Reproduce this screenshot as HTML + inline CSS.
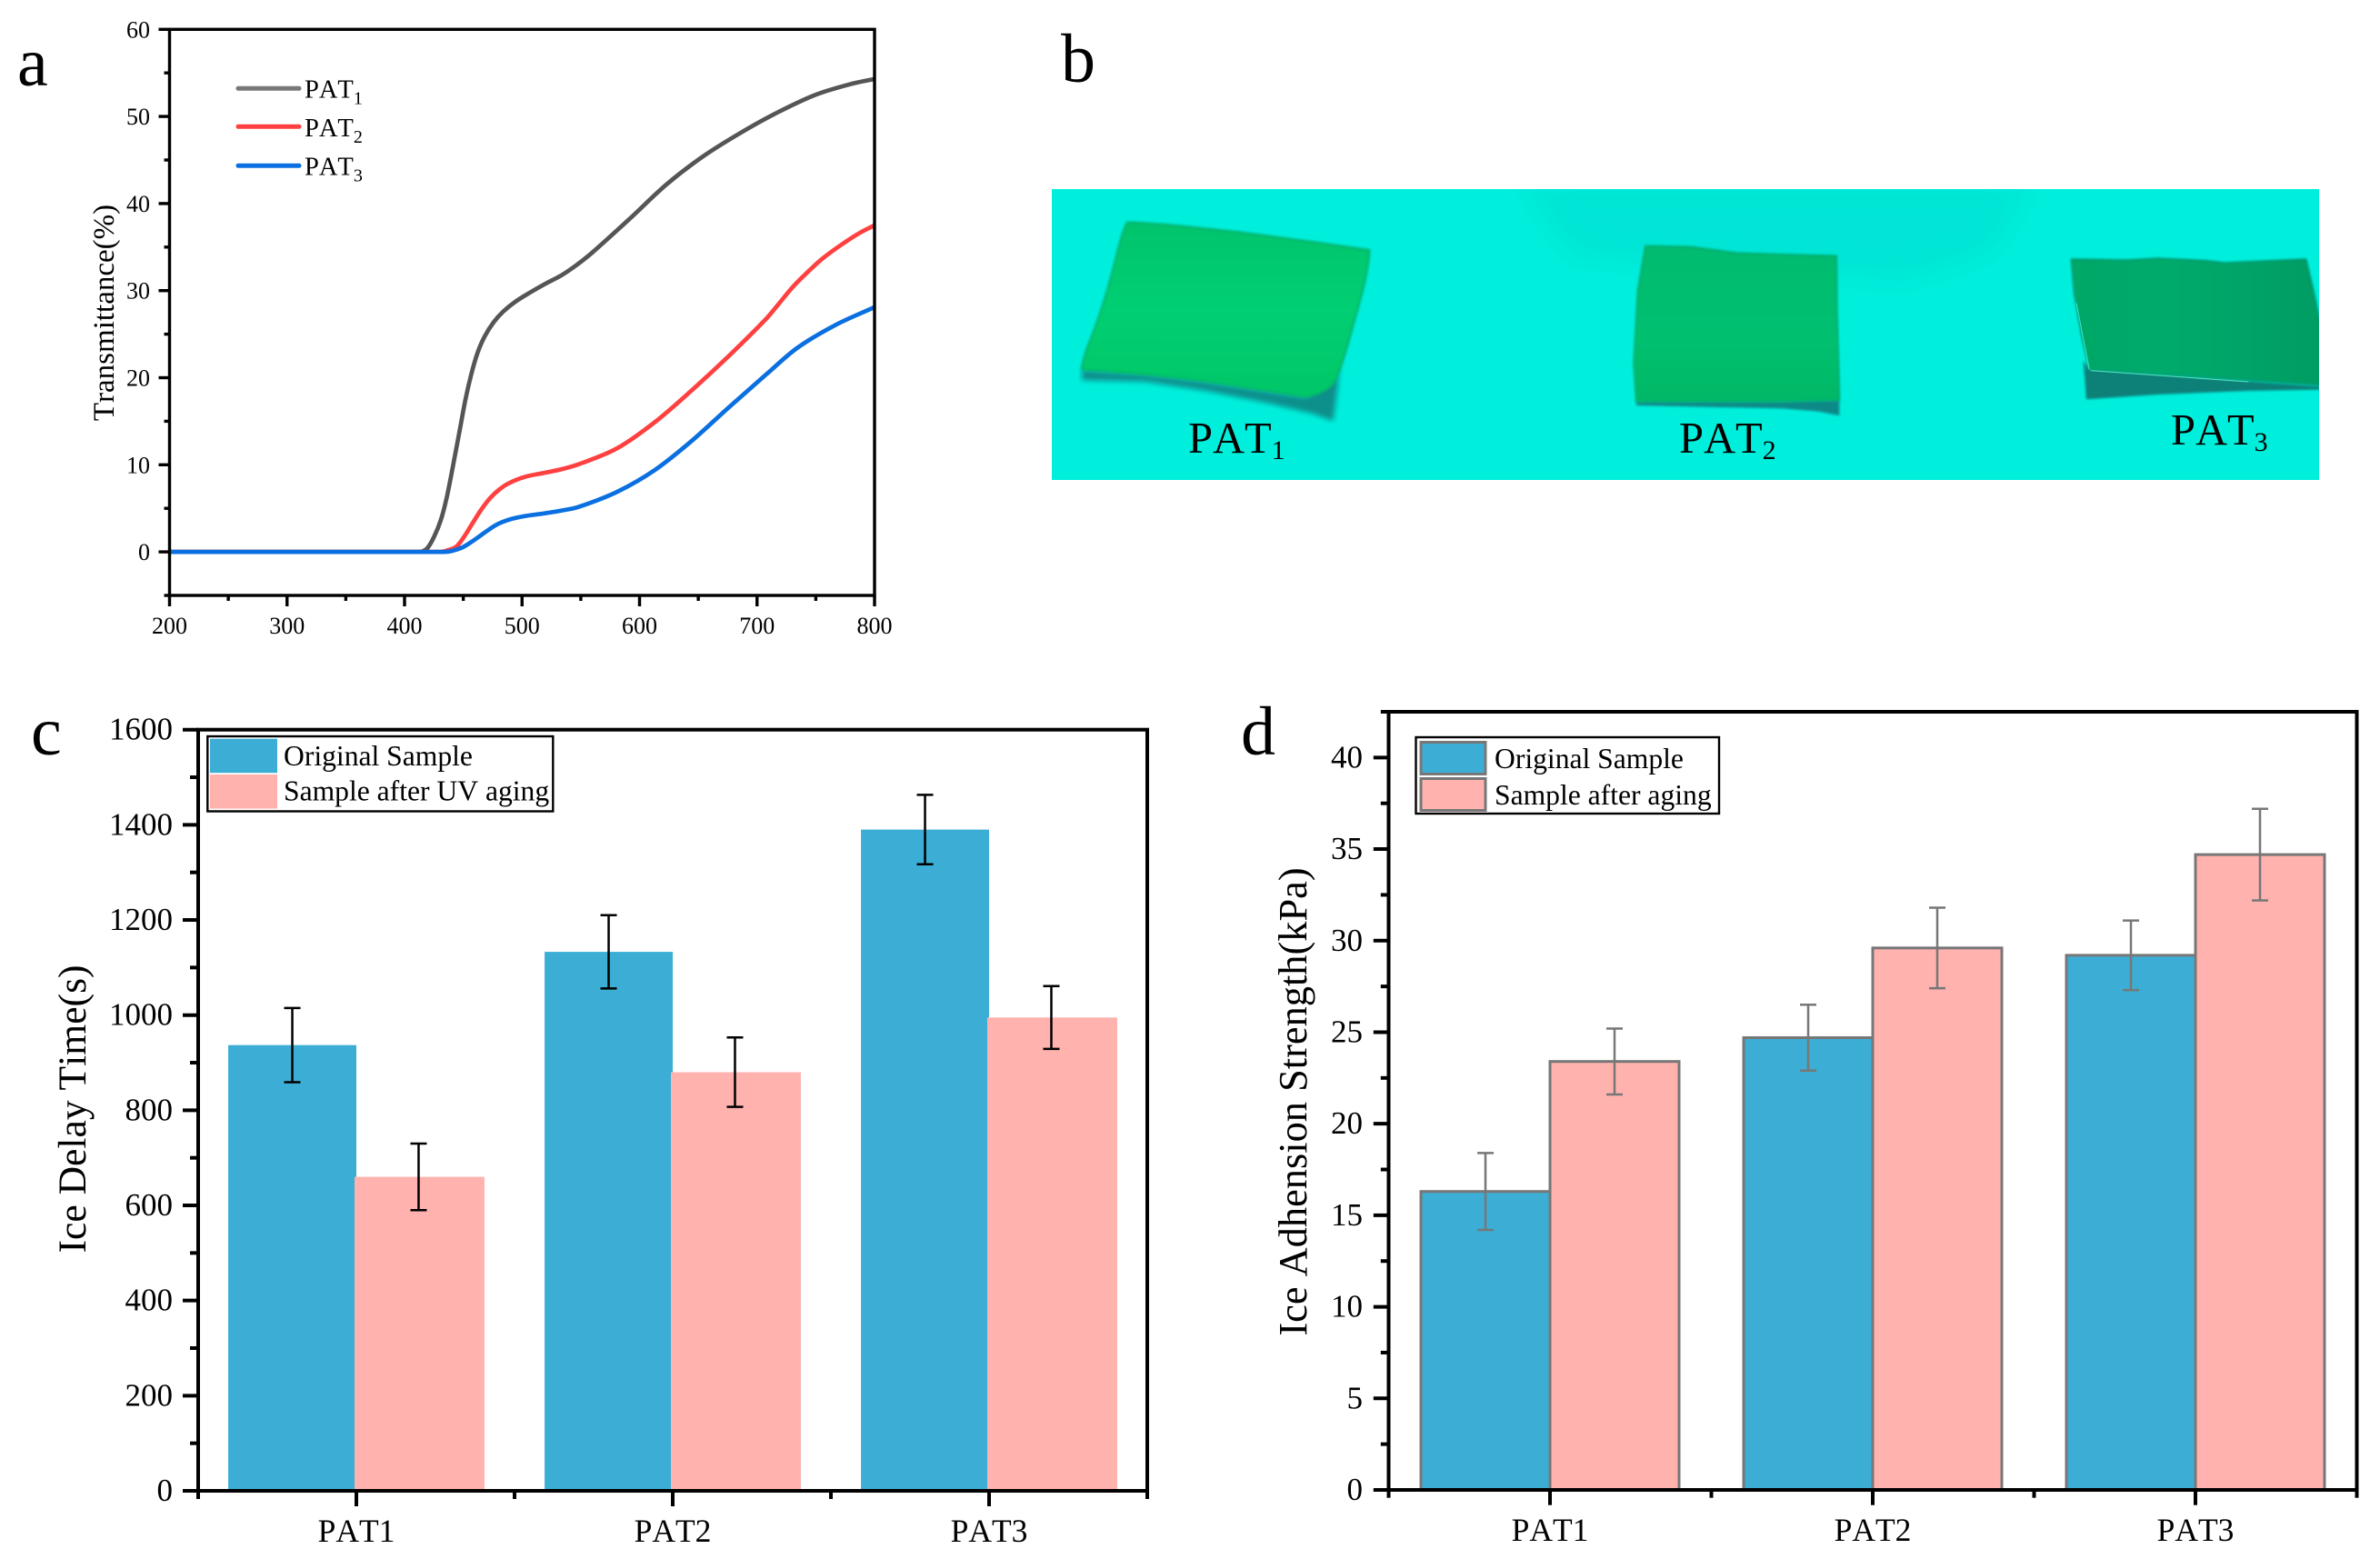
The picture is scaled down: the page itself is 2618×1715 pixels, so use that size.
<!DOCTYPE html>
<html lang="en">
<head>
<meta charset="utf-8">
<title>PAT transmittance, appearance and icing performance</title>
<style>
html,body{margin:0;padding:0;background:#fff;width:2618px;height:1715px;overflow:hidden}
svg{display:block;position:absolute;left:0;top:0}
text{font-family:"Liberation Serif",serif;fill:#000;font-kerning:none}
</style>
</head>
<body>
<svg id="fig" xmlns="http://www.w3.org/2000/svg" width="2618" height="1715" viewBox="0 0 2618 1715">
  <defs>
    <filter id="soft" x="-10%" y="-10%" width="120%" height="120%"><feGaussianBlur stdDeviation="4"/></filter>
    <filter id="softShadow" x="-20%" y="-40%" width="140%" height="180%"><feGaussianBlur stdDeviation="9"/></filter>
    <filter id="softer" x="-20%" y="-30%" width="140%" height="160%"><feGaussianBlur stdDeviation="14"/></filter>
    <linearGradient id="s1" x1="0" y1="0" x2="0" y2="1"><stop offset="0" stop-color="#00c46c"/><stop offset=".5" stop-color="#00cf72"/><stop offset="1" stop-color="#00c768"/></linearGradient>
    <linearGradient id="s2" x1="0" y1="0" x2="0" y2="1"><stop offset="0" stop-color="#00bb70"/><stop offset=".6" stop-color="#00c070"/><stop offset="1" stop-color="#00b866"/></linearGradient>
    <linearGradient id="s3" x1="0" y1="0" x2="1" y2="0"><stop offset="0" stop-color="#00a868"/><stop offset=".4" stop-color="#00aa6a"/><stop offset="1" stop-color="#009c64"/></linearGradient>
  </defs>

  <rect x="0" y="0" width="2618" height="1715" fill="#ffffff"/>

  <text x="19" y="94" font-size="76">a</text>
  <text x="1167" y="90" font-size="76">b</text>
  <text x="34" y="830" font-size="76">c</text>
  <text x="1365" y="830" font-size="76">d</text>

  <g id="panelA">
    <text transform="translate(125 344) rotate(-90)" text-anchor="middle" font-size="33">Transmittance(%)</text>
    <g>
      <line x1="262" x2="329" y1="97.3" y2="97.3" stroke="#787878" stroke-width="5" stroke-linecap="round"/>
      <line x1="262" x2="329" y1="139.3" y2="139.3" stroke="#ff4040" stroke-width="5" stroke-linecap="round"/>
      <line x1="262" x2="329" y1="182.3" y2="182.3" stroke="#0a6fe0" stroke-width="5" stroke-linecap="round"/>
      <text x="335" y="107.3" font-size="28.5">PAT<tspan font-size="20" dy="7">1</tspan></text>
      <text x="335" y="150" font-size="28.5">PAT<tspan font-size="20" dy="7">2</tspan></text>
      <text x="335" y="192.7" font-size="28.5">PAT<tspan font-size="20" dy="7">3</tspan></text>
    </g>
  </g>

  <g>
    <rect x="1157" y="208" width="1394" height="320" fill="#00efdc"/>
    <svg x="1157" y="208" width="1394" height="320" viewBox="1157 208 1394 320">
      <polygon points="1670,200 2240,200 2190,280 2100,310 1730,285" fill="#00e5d5" filter="url(#softer)"/>
      <g transform="translate(1160 210) scale(0.3333)">
        <polygon points="90,590 150,595 300,605 500,630 830,680 930,620 945,570 920,760 850,735 700,700 500,660 300,630 90,625" fill="#0c8f8c" filter="url(#softShadow)"/>
        <path d="M240,103 C360,108 480,122 600,135 C800,160 920,178 1040,195 C1035,270 1015,340 995,410 C975,480 955,560 930,620 C915,650 880,672 830,680 C720,665 610,645 500,630 C360,610 220,600 90,590 C90,570 100,540 110,510 C140,440 170,350 200,230 C215,170 225,130 240,103 Z" fill="url(#s1)" stroke="#0ab06a" stroke-width="6" filter="url(#soft)"/>
      </g>
      <g transform="translate(1760 210) scale(0.3333)">
        <polygon points="120,695 400,695 600,695 790,690 790,742 720,728 600,718 400,714 120,708" fill="#0c8a88" filter="url(#soft)"/>
        <polygon points="150,182 300,185 450,205 600,210 780,215 782,400 790,690 600,695 400,695 120,695 112,570 125,330" fill="url(#s2)" stroke="#07ab68" stroke-width="6" filter="url(#soft)"/>
      </g>
      <g transform="translate(2240 210) scale(0.3333)">
        <polygon points="175,590 480,612 700,628 940,645 940,656 700,660 400,672 165,688 155,560" fill="#0a8078" filter="url(#soft)"/>
        <polygon points="115,225 300,228 400,222 560,230 620,237 890,225 915,330 940,450 940,642 700,625 480,610 175,590 150,480 125,340" fill="url(#s3)" stroke="#048a68" stroke-width="4" filter="url(#soft)"/>
        <line x1="180" y1="593" x2="700" y2="630" stroke="#58e0b8" stroke-width="3"/>
        <line x1="132" y1="370" x2="175" y2="590" stroke="#44e4c4" stroke-width="3"/>
      </g>
    </svg>
    <text x="1307" y="498" font-size="48.5">PAT<tspan font-size="30" dy="7">1</tspan></text>
    <text x="1847" y="498" font-size="48.5">PAT<tspan font-size="30" dy="7">2</tspan></text>
    <text x="2388" y="489" font-size="48.5">PAT<tspan font-size="30" dy="7">3</tspan></text>
  </g>

  <g id="panelC">
    <text transform="translate(94 1220) rotate(-90)" text-anchor="middle" font-size="43.6">Ice Delay Time(s)</text>
  </g>
  <g id="panelD">
    <text transform="translate(1437 1212) rotate(-90)" text-anchor="middle" font-size="44.4">Ice Adhension Strength(kPa)</text>
  </g>
</svg>

<script>
/* ---------- panel a data ---------- */
const pat1Wavelength = [200,300,400,412,419,425,431,436,441,447,452,457,462,468,476,484,494,507,520,534,547,560,592,623,655,687,718,750,782,800];
const pat1Transmittance = [0,0,0,0,0.37,1.7,3.7,6.3,9.7,14,17.6,20.5,22.8,24.7,26.4,27.6,28.7,29.8,30.8,31.8,33,34.4,38.3,42.2,45.5,48.2,50.5,52.5,53.8,54.3];
const pat2Wavelength = [200,300,400,430,436,444,450,457,465,473,481,489,502,518,534,549,581,613,644,676,708,718,729,739,755,771,787,800];
const pat2Transmittance = [0,0,0,0,0.15,0.6,1.6,3.1,4.8,6.2,7.2,7.9,8.6,9.05,9.5,10.1,11.9,14.9,18.5,22.5,26.8,28.4,30.2,31.6,33.6,35.2,36.6,37.5];
const pat3Wavelength = [200,300,400,434,439,449,457,468,478,489,502,518,534,549,581,613,644,676,708,734,766,800];
const pat3Transmittance = [0,0,0,0,0.07,0.5,1.15,2.2,3.1,3.7,4.1,4.4,4.75,5.2,6.9,9.4,12.7,16.6,20.4,23.4,26,28.1];
const aXTickLabels = [200,300,400,500,600,700,800];
const aXMinorTicks = [250,350,450,550,650,750];
const aYTickLabels = [0,10,20,30,40,50,60];
const aYMinorTicks = [-5,5,15,25,35,45,55];

/* ---------- panel c data ---------- */
const cCategories = ['PAT1','PAT2','PAT3'];
const cOriginal = [937,1133,1390];
const cOriginalErr = [78,77,73];
const cAged = [660,880,995];
const cAgedErr = [70,73,66];
const cYTickLabels = [0,200,400,600,800,1000,1200,1400,1600];
const cYMinorTicks = [100,300,500,700,900,1100,1300,1500];
const cLegendLabels = ['Original Sample','Sample after UV aging'];

/* ---------- panel d data ---------- */
const dCategories = ['PAT1','PAT2','PAT3'];
const dOriginal = [16.3,24.7,29.2];
const dOriginalErr = [2.1,1.8,1.9];
const dAged = [23.4,29.6,34.7];
const dAgedErr = [1.8,2.2,2.5];
const dYTickLabels = [0,5,10,15,20,25,30,35,40];
const dYMinorTicks = [2.5,7.5,12.5,17.5,22.5,27.5,32.5,37.5,42.5];
const dLegendLabels = ['Original Sample','Sample after aging'];

const NS = 'http://www.w3.org/2000/svg';
function mk(tag, attrs, parent) {
  const el = document.createElementNS(NS, tag);
  for (const k in attrs) el.setAttribute(k, attrs[k]);
  parent.appendChild(el);
  return el;
}

/* cubic Hermite curve through the read points, tangents from neighbouring slopes */
function smoothPath(xs, ys, sx, sy) {
  const p = xs.map((v, i) => [sx(v), sy(ys[i])]);
  const n = p.length;
  const slope = i => {
    if (i === 0) return (p[1][1] - p[0][1]) / (p[1][0] - p[0][0]);
    if (i === n - 1) return (p[n - 1][1] - p[n - 2][1]) / (p[n - 1][0] - p[n - 2][0]);
    if (ys[i] === ys[i - 1] || ys[i] === ys[i + 1]) return 0;
    return (p[i + 1][1] - p[i - 1][1]) / (p[i + 1][0] - p[i - 1][0]);
  };
  let d = 'M' + p[0][0].toFixed(2) + ' ' + p[0][1].toFixed(2);
  for (let i = 0; i < n - 1; i++) {
    const dx = p[i + 1][0] - p[i][0];
    const c1x = p[i][0] + dx / 3, c1y = p[i][1] + slope(i) * dx / 3;
    const c2x = p[i + 1][0] - dx / 3, c2y = p[i + 1][1] - slope(i + 1) * dx / 3;
    d += ' C' + c1x.toFixed(2) + ' ' + c1y.toFixed(2) + ' ' + c2x.toFixed(2) + ' ' + c2y.toFixed(2) + ' ' + p[i + 1][0].toFixed(2) + ' ' + p[i + 1][1].toFixed(2);
  }
  return d;
}

/* ---------- panel a ---------- */
(function () {
  const g = document.getElementById('panelA');
  const L = 186.5, R = 962, T = 32.3, B = 655;
  const x = v => L + (v - 200) / 600 * (R - L);
  const y = v => B - (v + 5) / 65 * (B - T);

  [[pat1Wavelength, pat1Transmittance, '#555555', 'line-pat1'],
   [pat2Wavelength, pat2Transmittance, '#ff4040', 'line-pat2'],
   [pat3Wavelength, pat3Transmittance, '#0a6fe0', 'line-pat3']].forEach(s => {
    const line = mk('path', {d: smoothPath(s[0], s[1], x, y), fill: 'none', stroke: s[2], 'stroke-width': 4.7}, g);
    
    
  });

  const frame = mk('rect', {x: L, y: T, width: R - L, height: B - T, fill: 'none', stroke: '#000', 'stroke-width': 3.4}, g);
  
  

  aYTickLabels.forEach(v => {
    const t = mk('line', {x1: L - 12, x2: L, y1: y(v), y2: y(v), stroke: '#000', 'stroke-width': 3.4}, g);
    
    
    const l = mk('text', {x: 165, y: y(v) + 9, 'text-anchor': 'end', 'font-size': 26}, g);
    l.textContent = v;
    
    
  });
  aYMinorTicks.forEach(v => {
    const t = mk('line', {x1: L - 6, x2: L, y1: y(v), y2: y(v), stroke: '#000', 'stroke-width': 3.4}, g);
    
    
  });
  aXTickLabels.forEach(v => {
    const t = mk('line', {x1: x(v), x2: x(v), y1: B, y2: B + 12, stroke: '#000', 'stroke-width': 3.4}, g);
    
    
    const l = mk('text', {x: x(v), y: 697, 'text-anchor': 'middle', 'font-size': 26}, g);
    l.textContent = v;
    
    
  });
  aXMinorTicks.forEach(v => {
    const t = mk('line', {x1: x(v), x2: x(v), y1: B, y2: B + 6, stroke: '#000', 'stroke-width': 3.4}, g);
    
    
  });
})();

/* ---------- grouped bar panels ---------- */
function barPanel(g, o) {
  const x = c => o.L + (c + 0.5) / o.categories.length * (o.R - o.L);
  const y = v => o.B - v / o.yMax * (o.B - o.T);
  const catW = (o.R - o.L) / o.categories.length;
  const bw = catW * o.barFrac;

  o.categories.forEach((name, i) => {
    const cx = x(i);
    [[o.first, o.blue, cx - bw, bw, 'bar-original'],
     [o.second, o.pink, cx + o.pinkShift, bw + o.pinkExtra, 'bar-aged']].forEach(s => {
      const v = s[0][i];
      const bar = mk('rect', {x: s[2], y: y(v), width: s[3], height: o.B - y(v), fill: s[1], stroke: o.barStroke, 'stroke-width': o.barStrokeWidth}, g);
      
      
    });
    [[o.first, o.firstErr, cx - bw / 2, 'error-bar-original'],
     [o.second, o.secondErr, cx + o.pinkShift + bw / 2, 'error-bar-aged']].forEach(s => {
      const v = s[0][i], e = s[1][i], ex = s[2];
      const capW = 9;
      const err = mk('path', {
        d: 'M' + ex + ' ' + y(v + e) + 'V' + y(v - e) +
           'M' + (ex - capW) + ' ' + y(v + e) + 'H' + (ex + capW) +
           'M' + (ex - capW) + ' ' + y(v - e) + 'H' + (ex + capW),
        fill: 'none', stroke: o.errColor, 'stroke-width': 2.5}, g);
      
      
    });
    const t = mk('line', {x1: cx, x2: cx, y1: o.B, y2: o.B + o.major, stroke: '#000', 'stroke-width': 4}, g);
    
    
    const l = mk('text', {x: cx, y: o.catY, 'text-anchor': 'middle', 'font-size': 35.5}, g);
    l.textContent = name;
    
    
  });
  for (let i = 0; i <= o.categories.length; i++) {
    const bx = o.L + i * catW;
    const t = mk('line', {x1: bx, x2: bx, y1: o.B, y2: o.B + o.minor, stroke: '#000', 'stroke-width': 4}, g);
    
    
  }

  const frame = mk('rect', {x: o.L, y: o.T, width: o.R - o.L, height: o.B - o.T, fill: 'none', stroke: '#000', 'stroke-width': 4}, g);
  
  

  o.yTicks.forEach(v => {
    const t = mk('line', {x1: o.L - o.major, x2: o.L, y1: y(v), y2: y(v), stroke: '#000', 'stroke-width': 4}, g);
    
    
    const l = mk('text', {x: o.labelX, y: y(v) + 11, 'text-anchor': 'end', 'font-size': 35}, g);
    l.textContent = v;
    
    
  });
  o.yMinor.forEach(v => {
    const t = mk('line', {x1: o.L - o.minor, x2: o.L, y1: y(v), y2: y(v), stroke: '#000', 'stroke-width': 4}, g);
    
    
  });

  /* legend */
  const lg = o.legend;
  const legend = mk('g', {}, g);
  
  
  const box = mk('rect', {x: lg.x, y: lg.y, width: lg.w, height: lg.h, fill: '#fff', stroke: '#000', 'stroke-width': 2.4}, legend);
  
  
  o.legendLabels.forEach((label, i) => {
    const sw = mk('rect', {x: lg.swX, y: lg.swY[i], width: lg.swW, height: lg.swH, fill: i ? o.pink : o.blue, stroke: o.barStroke, 'stroke-width': o.barStrokeWidth}, legend);
    
    
    const tx = mk('text', {x: lg.textX, y: lg.textY[i], 'font-size': 31.6}, legend);
    tx.textContent = label;
    
    
  });
}

barPanel(document.getElementById('panelC'), {
  L: 218, R: 1262, T: 802.7, B: 1640, yMax: 1600, barFrac: 0.405, pinkShift: -2, pinkExtra: 2,
  categories: cCategories, first: cOriginal, firstErr: cOriginalErr, second: cAged, secondErr: cAgedErr,
  yTicks: cYTickLabels, yMinor: cYMinorTicks, legendLabels: cLegendLabels,
  blue: '#3caed5', pink: '#ffb2ae', barStroke: 'none', barStrokeWidth: 0, errColor: '#000',
  major: 17, minor: 9, labelX: 190, catY: 1696,
  legend: {x: 228.3, y: 810, w: 380, h: 82.5, swX: 231, swY: [812.7, 852], swW: 74, swH: 37.5, textX: 312, textY: [842, 880.5]}
});

barPanel(document.getElementById('panelD'), {
  L: 1527.5, R: 2592.5, T: 783, B: 1639, yMax: 42.5, barFrac: 0.4, pinkShift: 0, pinkExtra: 0,
  categories: dCategories, first: dOriginal, firstErr: dOriginalErr, second: dAged, secondErr: dAgedErr,
  yTicks: dYTickLabels, yMinor: dYMinorTicks, legendLabels: dLegendLabels,
  blue: '#3caed5', pink: '#ffb2ae', barStroke: '#777777', barStrokeWidth: 3, errColor: '#777777',
  major: 16.7, minor: 8.7, labelX: 1499, catY: 1695,
  legend: {x: 1557.5, y: 811, w: 333.5, h: 84, swX: 1563, swY: [816.5, 856.5], swW: 71, swH: 35, textX: 1644, textY: [845, 885]}
});
</script>
</body>
</html>
